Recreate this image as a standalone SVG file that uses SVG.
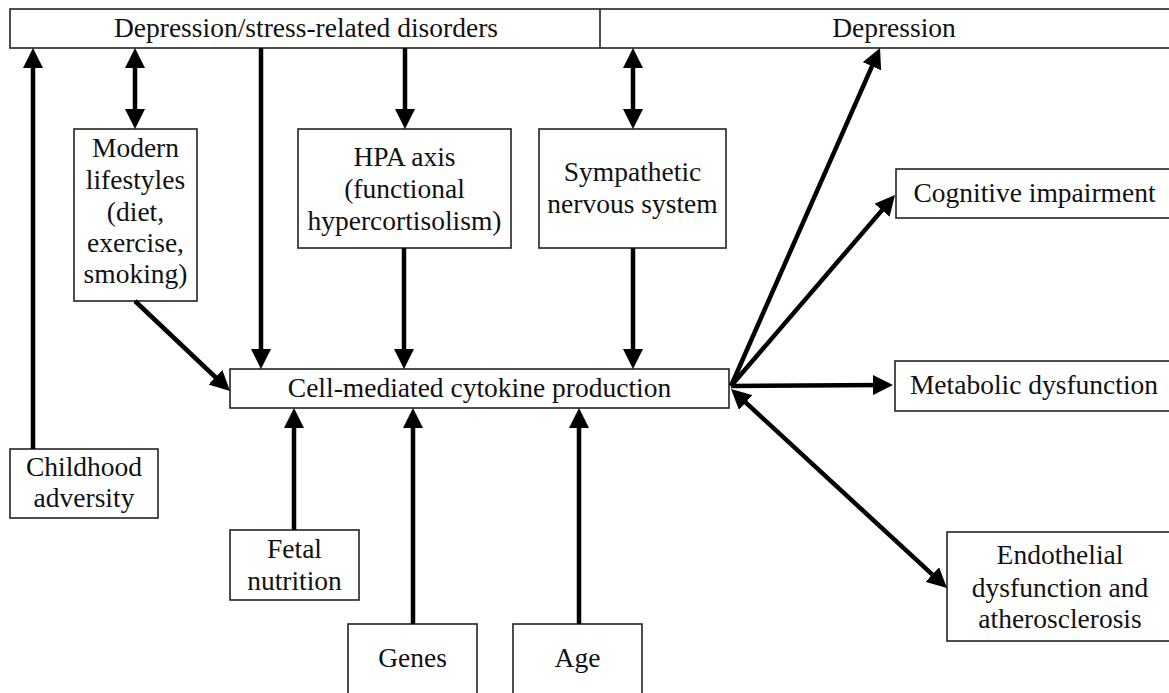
<svg xmlns="http://www.w3.org/2000/svg" width="1169" height="693" viewBox="0 0 1169 693">
<style>
.box{fill:#fff;stroke:#222;stroke-width:1.6}
text{font-size:27.5px;fill:#111;text-anchor:middle}
.c{stroke:#000;stroke-width:4.5;fill:none;marker-end:url(#ah)}
.d{marker-start:url(#ah)}
</style>
<defs>
<marker id="ah" markerUnits="userSpaceOnUse" viewBox="0 0 20 20" markerWidth="20" markerHeight="20" refX="12" refY="10" orient="auto-start-reverse">
<path d="M0,0 L20,10 L0,20 z" fill="#000"/>
</marker>
</defs>
<rect width="1169" height="693" fill="#fff"/>
<g font-family="'Liberation Serif', 'Times New Roman', serif">
<g id="top">
<rect class="box" x="10" y="9" width="1175" height="39"/>
<line x1="600" y1="9" x2="600" y2="48" stroke="#222" stroke-width="1.6"/>
<text x="306" y="37">Depression/stress-related disorders</text>
<text x="894" y="37">Depression</text>
</g>
<g id="modern">
<rect class="box" x="74" y="129" width="123" height="172"/>
<text x="135.5" y="157">Modern</text>
<text x="135.5" y="189">lifestyles</text>
<text x="135.5" y="221">(diet,</text>
<text x="135.5" y="252">exercise,</text>
<text x="135.5" y="283">smoking)</text>
</g>
<g id="hpa">
<rect class="box" x="298" y="129" width="213" height="119"/>
<text x="404.5" y="166">HPA axis</text>
<text x="404.5" y="198">(functional</text>
<text x="404.5" y="230">hypercortisolism)</text>
</g>
<g id="sns">
<rect class="box" x="539" y="129" width="187" height="119"/>
<text x="632.5" y="181">Sympathetic</text>
<text x="632.5" y="213">nervous system</text>
</g>
<g id="cell">
<rect class="box" x="230" y="369" width="499" height="39"/>
<text x="479.5" y="397">Cell-mediated cytokine production</text>
</g>
<g id="childhood">
<rect class="box" x="10" y="449" width="148" height="69"/>
<text x="84" y="476">Childhood</text>
<text x="84" y="507">adversity</text>
</g>
<g id="fetal">
<rect class="box" x="230" y="530" width="129" height="70"/>
<text x="294.5" y="558">Fetal</text>
<text x="294.5" y="590">nutrition</text>
</g>
<g id="genes">
<rect class="box" x="348" y="624" width="129" height="80"/>
<text x="412.5" y="667">Genes</text>
</g>
<g id="age">
<rect class="box" x="513" y="624" width="129" height="80"/>
<text x="577.5" y="667">Age</text>
</g>
<g id="cognitive">
<rect class="box" x="896" y="169" width="290" height="49"/>
<text x="1034.5" y="202">Cognitive impairment</text>
</g>
<g id="metabolic">
<rect class="box" x="895" y="361" width="290" height="50"/>
<text x="1034" y="394">Metabolic dysfunction</text>
</g>
<g id="endothelial">
<rect class="box" x="947" y="532" width="240" height="109"/>
<text x="1060" y="564">Endothelial</text>
<text x="1060" y="597">dysfunction and</text>
<text x="1060" y="628">atherosclerosis</text>
</g>
</g>
<g id="connectors">
<path class="c" d="M33,449 L33,56"/>
<path class="c d" d="M135,56 L135,121"/>
<path class="c" d="M261,48 L261,361"/>
<path class="c" d="M405,48 L405,121"/>
<path class="c" d="M404,248 L404,361"/>
<path class="c d" d="M633,56 L633,121"/>
<path class="c" d="M633,248 L633,361"/>
<path class="c" d="M135,301 L224.2,385.5"/>
<path class="c" d="M294,530 L294,416"/>
<path class="c" d="M413,624 L413,416"/>
<path class="c" d="M579,624 L579,416"/>
<path class="c" d="M731,386 L876.8,55.3"/>
<path class="c" d="M731,386 L889.8,201.1"/>
<path class="c" d="M731,386 L885,385"/>
<path class="c d" d="M736.9,394.4 L941.1,582.6"/>
</g>
</svg>
